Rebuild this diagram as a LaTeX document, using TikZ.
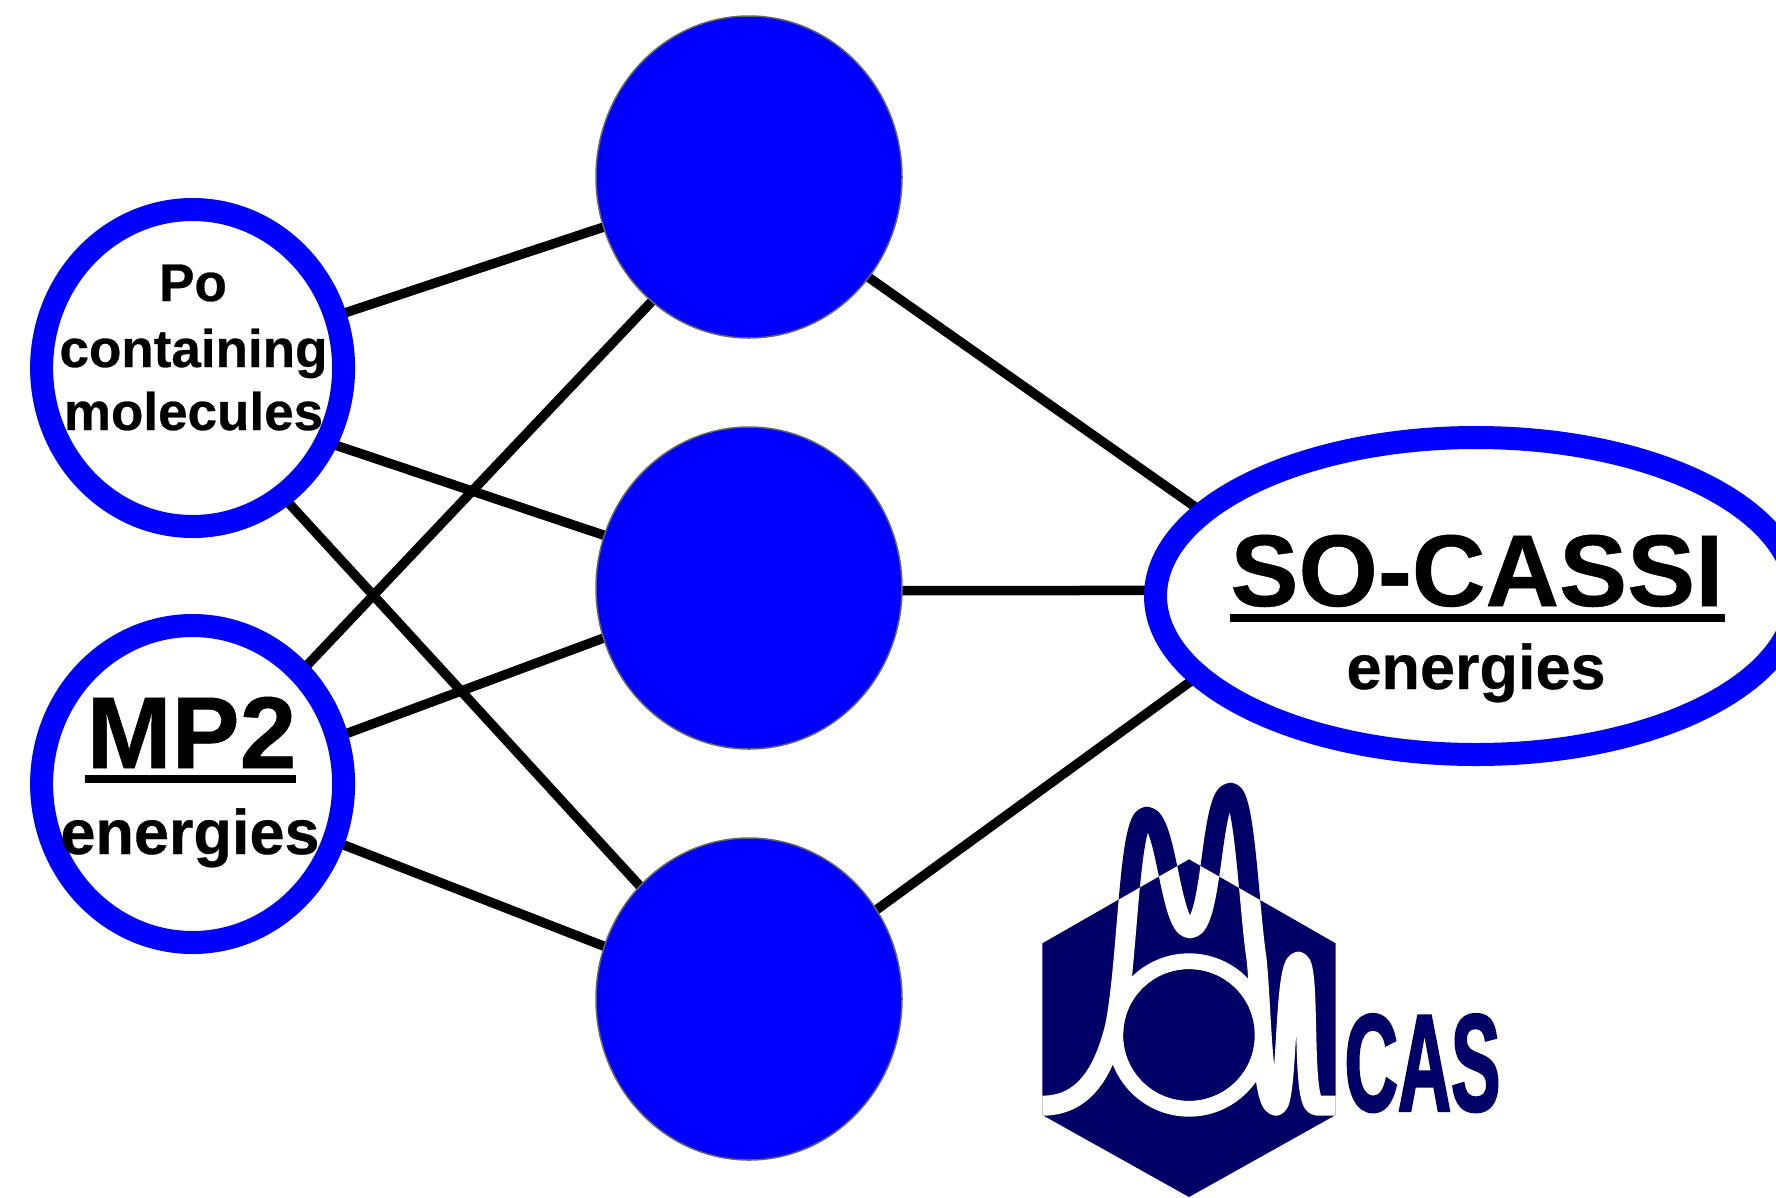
\documentclass[tikz,border=0pt]{standalone}
\usepackage{fontspec}
\setmainfont{Liberation Sans}[BoldFeatures={FakeBold=0.5}]
\newfontfamily\casfont{Liberation Sans}[UprightFont={* Bold},FakeStretch=0.53,FakeBold=1.5]
\usetikzlibrary{shapes.geometric,backgrounds}
\definecolor{netblue}{RGB}{0,0,255}
\definecolor{casnavy}{RGB}{0,0,102}
\tikzset{
  inputnode/.style={ellipse,draw=netblue,fill=white,line width=23pt,inner sep=0pt,outer sep=0pt,minimum width=302pt,minimum height=317pt},
  outputnode/.style={ellipse,draw=netblue,fill=white,line width=23pt,inner sep=0pt,outer sep=0pt,minimum width=641pt,minimum height=317pt},
  hiddennode/.style={ellipse,draw=black!60,fill=netblue,line width=1.5pt,inner sep=0pt,outer sep=0pt,minimum width=306pt,minimum height=322pt},
  link/.style={draw=black,line width=9.5pt},
  txtsmall/.style={anchor=base,inner sep=0pt,font=\bfseries\fontsize{53}{60}\selectfont},
  txtmid/.style={anchor=base,inner sep=0pt,font=\bfseries\fontsize{63}{70}\selectfont},
  txtbig/.style={anchor=base,inner sep=0pt,font=\bfseries\fontsize{102}{110}\selectfont},
  rulebar/.style={draw=black,line width=8pt},
  spectrum/.style={line width=20pt,line join=round},
}
\newcommand{\specpath}{(40,1037) -- (67,1037) .. controls (190,1037) and (250,940) .. (285,800)
  .. controls (325,600) and (325,170) .. (380,170)
  .. controls (440,170) and (450,505) .. (510,505)
  .. controls (580,505) and (570,98) .. (632,98)
  .. controls (675,98) and (685,430) .. (710,600)
  .. controls (725,750) and (725,1037) .. (768,1037)
  .. controls (805,1037) and (790,605) .. (835,605)
  .. controls (875,605) and (840,1037) .. (890,1037)
  -- (980,1037)}
\begin{document}
\begin{tikzpicture}[x=1pt,y=-1pt]
\useasboundingbox (0,0) rectangle (1776,1197);
% nodes
\node[inputnode] (po) at (192.6,368) {};
\node[inputnode] (mp) at (192.6,784) {};
\node[hiddennode] (h1) at (749,177) {};
\node[hiddennode] (h2) at (749,588) {};
\node[hiddennode] (h3) at (749,999) {};
\node[outputnode] (so) at (1476,596) {};
% connectors
\begin{scope}[on background layer]
\draw[link] (po.20) -- (h1.199.3);
\draw[link] (po.-29) -- (h2.160.3);
\draw[link] (po.-55) -- (h3.134);
\draw[link] (mp.46.7) -- (h1.232.5);
\draw[link] (mp.18.6) -- (h2.199.3);
\draw[link] (mp.-22.8) -- (h3.160.3);
\draw[link] (h1.-40) -- (so.163.3);
\draw[link] (h2.-1) -- (so.179.4);
\draw[link] (h3.35.5) -- (so.196.7);
\end{scope}
% labels
\node[txtsmall] (t1) at (193,301) {Po};
\node[txtsmall] (t2) at (193.5,367) {containing};
\node[txtsmall] (t3) at (193.5,430) {molecules};
\node[txtbig] (t4) at (191.5,768) {MP2};
\draw[rulebar] (85,779) -- (296,779);
\node[txtmid] (t5) at (190,854) {energies};
\node[txtbig] (t6) at (1477,606) {SO-CASSI};
\draw[rulebar] (1230,618) -- (1725,618);
\node[txtmid] (t7) at (1476,689) {energies};
% logo
\begin{scope}[shift={(1020pt,-760pt)},x=0.33333pt,y=-0.33333pt]
\begin{scope}
\clip (0,0) rectangle (1000,700);
\draw[casnavy,spectrum] \specpath;
\end{scope}
\fill[casnavy] (67,550) -- (507,298) -- (947,550) -- (947,1065) -- (507,1311) -- (67,1065) -- cycle;
\begin{scope}
\clip (67,550) -- (507,298) -- (947,550) -- (947,1065) -- (507,1311) -- (67,1065) -- cycle;
\draw[white,spectrum] \specpath;
\draw[white,line width=16pt] (507,825) circle[radius=221];
\fill[casnavy] (507,825) circle[radius=197];
\end{scope}
\end{scope}
\node[anchor=base,inner sep=0pt,text=casnavy,font=\casfont\fontsize{139}{150}\selectfont] (cas) at (1422.5,1111) {CAS};
\end{tikzpicture}
\end{document}
